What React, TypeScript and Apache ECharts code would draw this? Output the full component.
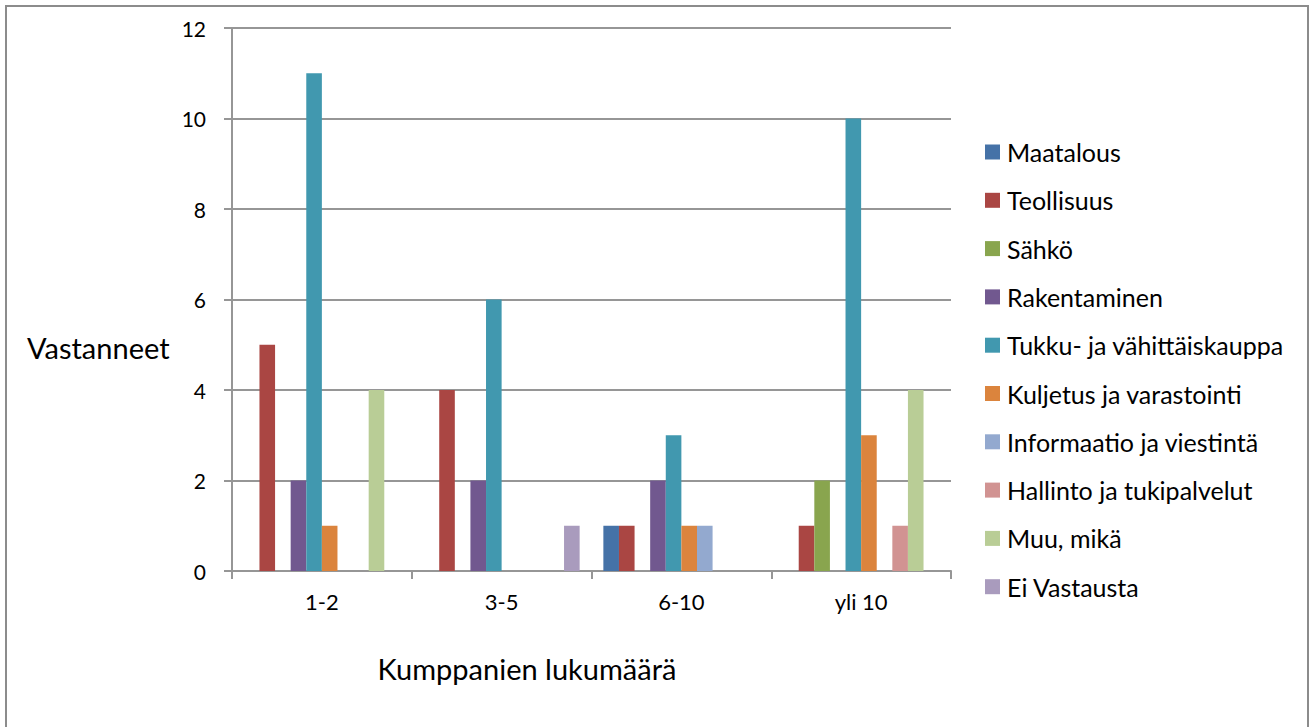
import React, { useEffect, useRef } from "react";
import * as echarts from "echarts";

const categories = ["1-2", "3-5", "6-10", "yli 10"];
const seriesNames = [
  "Maatalous",
  "Teollisuus",
  "Sähkö",
  "Rakentaminen",
  "Tukku- ja vähittäiskauppa",
  "Kuljetus ja varastointi",
  "Informaatio ja viestintä",
  "Hallinto ja tukipalvelut",
  "Muu, mikä",
  "Ei Vastausta",
];
const maatalous = [0, 0, 1, 0];
const teollisuus = [5, 4, 1, 1];
const sahko = [0, 0, 0, 2];
const rakentaminen = [2, 2, 2, 0];
const tukku = [11, 6, 3, 10];
const kuljetus = [1, 0, 1, 3];
const informaatio = [0, 0, 1, 0];
const hallinto = [0, 0, 0, 1];
const muu = [4, 0, 0, 4];
const eiVastausta = [0, 1, 0, 0];
const seriesValues = [maatalous, teollisuus, sahko, rakentaminen, tukku, kuljetus, informaatio, hallinto, muu, eiVastausta];
const colors = ["#4572A7", "#AA4643", "#89A54E", "#71588F", "#4198AF", "#DB843D", "#93A9CF", "#D19392", "#B9CD96", "#A99BBD"];
const yTicks = { min: 0, max: 12, interval: 2 };

const FONT = "Lato, 'Open Sans', sans-serif";
const GRID_COLOR = "#969696";

export default function App() {
  const ref = useRef<HTMLDivElement>(null);
  useEffect(() => {
    if (!ref.current) return;
    const chart = echarts.init(ref.current, null, { renderer: "svg" });
    chart.setOption({
      animation: false,
      backgroundColor: "#ffffff",
      color: colors,
      textStyle: { fontFamily: FONT, color: "#000" },
      grid: { left: 232, right: 362, top: 28, bottom: 156, containLabel: false },
      legend: {
        orient: "vertical",
        left: 980,
        top: 134.5,
        padding: 5,
        icon: "rect",
        itemWidth: 15,
        itemHeight: 15,
        itemGap: 23.3,
        textStyle: { fontSize: 25, fontFamily: FONT, color: "#000", lineHeight: 25, padding: [0, 0, 0, 2] },
        data: seriesNames,
      },
      xAxis: {
        type: "category",
        data: categories,
        boundaryGap: true,
        axisLine: { show: true, lineStyle: { color: GRID_COLOR, width: 2 } },
        axisTick: { show: true, length: 8, lineStyle: { color: GRID_COLOR, width: 2 } },
        axisLabel: { fontSize: 22, fontFamily: FONT, color: "#000", margin: 19 },
        splitLine: { show: false },
      },
      yAxis: {
        type: "value",
        min: yTicks.min,
        max: yTicks.max,
        interval: yTicks.interval,
        axisLine: { show: true, lineStyle: { color: GRID_COLOR, width: 2 } },
        axisTick: { show: true, length: 8, lineStyle: { color: GRID_COLOR, width: 2 } },
        axisLabel: { fontSize: 21, fontFamily: FONT, color: "#000", margin: 26 },
        splitLine: { show: true, lineStyle: { color: GRID_COLOR, width: 2 } },
      },
      series: seriesNames.map((name, i) => ({
        name,
        type: "bar",
        data: seriesValues[i],
        barGap: "0%",
        barCategoryGap: "13.2%",
        itemStyle: { color: colors[i] },
      })),
      graphic: [
        {
          type: "rect",
          shape: { x: 6, y: 6, width: 1302, height: 740 },
          style: { fill: "none", stroke: "#8c8c8c", lineWidth: 2 },
          silent: true,
        },
        {
          type: "text",
          x: 27,
          y: 347,
          style: { text: "Vastanneet", fontSize: 29, fontFamily: FONT, fill: "#000", textVerticalAlign: "middle" },
        },
        {
          type: "text",
          x: 527,
          y: 668,
          style: { text: "Kumppanien lukumäärä", fontSize: 29, fontFamily: FONT, fill: "#000", textAlign: "center", textVerticalAlign: "middle" },
        },
      ],
    });
    return () => chart.dispose();
  }, []);
  return <div ref={ref} style={{ position: "absolute", left: 0, top: 0, width: 1313, height: 727 }} />;
}
